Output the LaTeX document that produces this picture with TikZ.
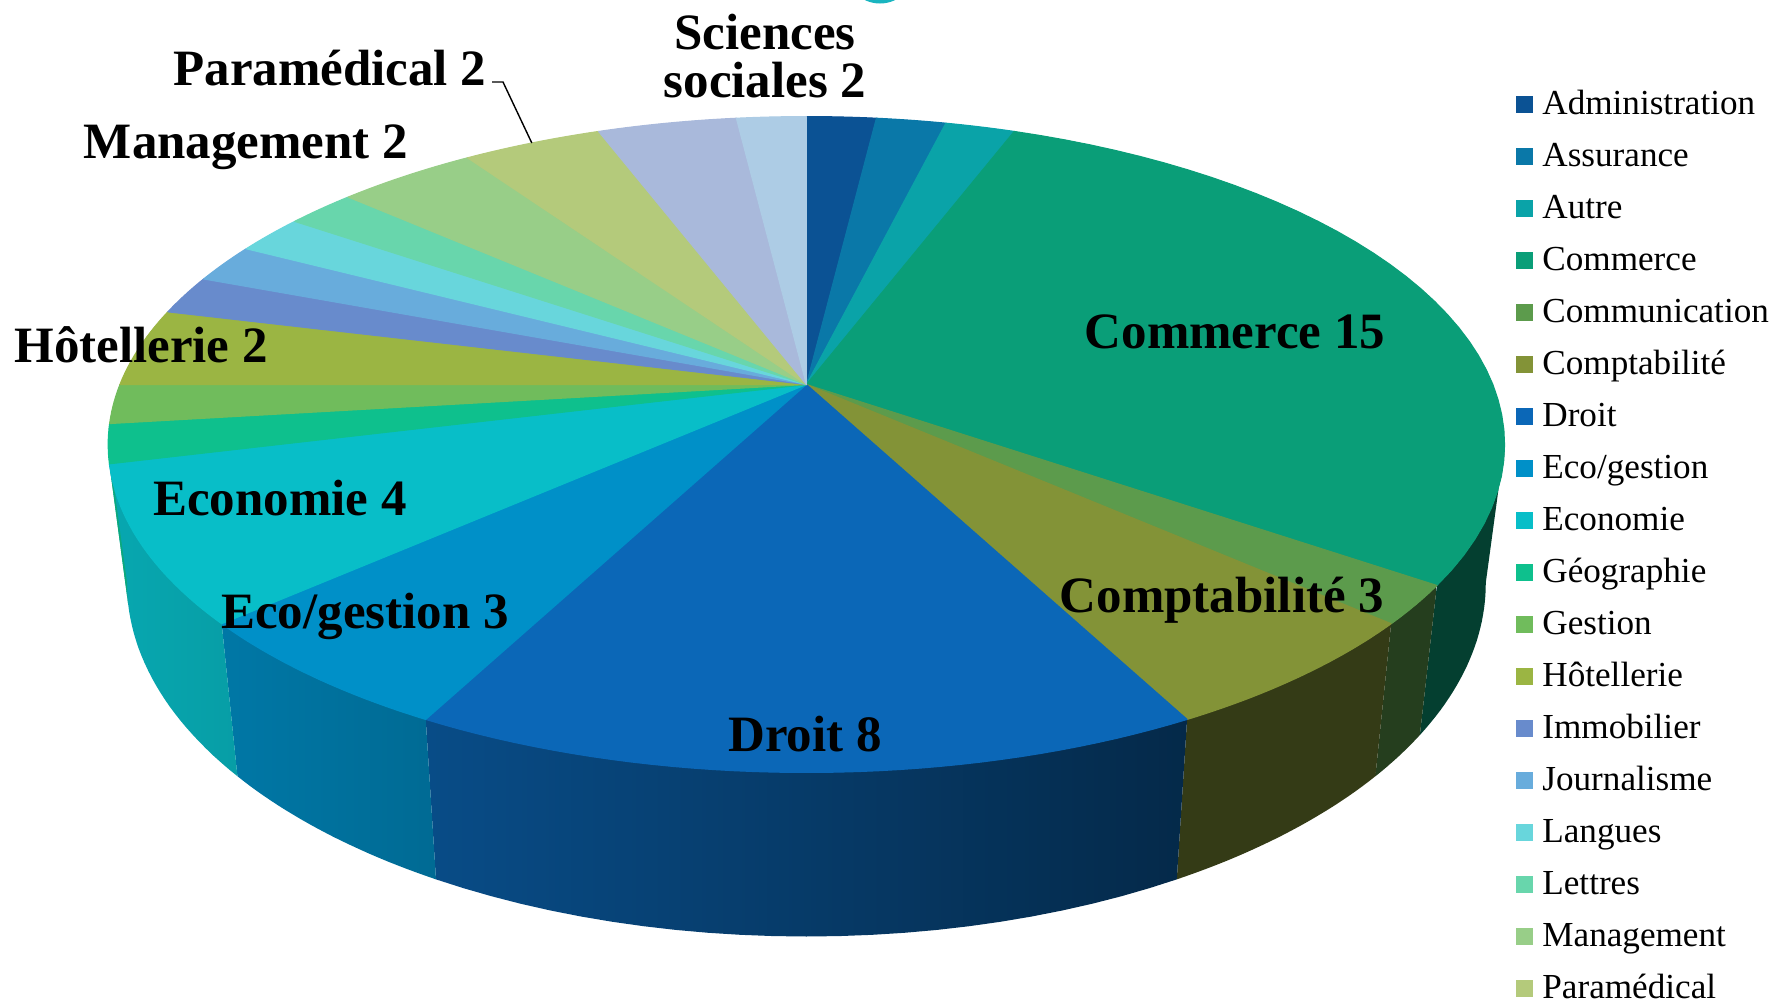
\documentclass[tikz,border=0pt]{standalone}
\usepackage{fontspec}
\setmainfont{Liberation Serif}
\usepackage{tikz}
\usetikzlibrary{positioning}
\usepackage{xcolor}
\definecolor{pcadm}{RGB}{11,82,148}
\definecolor{pcass}{RGB}{10,120,168}
\definecolor{pcaut}{RGB}{10,163,168}
\definecolor{pccom}{RGB}{10,158,120}
\definecolor{pccmn}{RGB}{92,155,76}
\definecolor{pccpt}{RGB}{131,147,55}
\definecolor{pcdro}{RGB}{11,103,183}
\definecolor{pcecg}{RGB}{0,144,200}
\definecolor{pceco}{RGB}{8,190,200}
\definecolor{pcgeo}{RGB}{14,192,141}
\definecolor{pcges}{RGB}{112,188,92}
\definecolor{pchot}{RGB}{155,181,67}
\definecolor{pcimm}{RGB}{104,139,204}
\definecolor{pcjou}{RGB}{104,172,220}
\definecolor{pclan}{RGB}{104,214,220}
\definecolor{pclet}{RGB}{104,214,172}
\definecolor{pcman}{RGB}{152,206,136}
\definecolor{pcpar}{RGB}{180,202,123}
\definecolor{pcsci}{RGB}{169,185,219}
\definecolor{pcoth}{RGB}{173,204,229}
\definecolor{pcring}{RGB}{26,181,192}
\tikzstyle{slicelabel} = [font=\fontsize{14.5}{17}\selectfont\bfseries, inner sep=0pt, anchor=base]
\tikzstyle{legmark} = [rectangle, minimum size=1.7mm, inner sep=0pt]
\tikzstyle{legtext} = [font=\fontsize{10}{12}\selectfont, inner sep=0pt, text height=5.7pt, text depth=0pt, anchor=west]
\tikzstyle{leader} = [thin, black]

\begin{document}
\begin{tikzpicture}[x=0.1mm, y=-0.1mm,
  declare function={
    rimw(\t)=1+0.183*cos(\t);
    rimx(\t)=806.4+686.5*sin(\t)/rimw(\t);
    rimy(\t)=384.5-317*cos(\t)/rimw(\t);
    botx(\t)=806.4+668*sin(\t)/rimw(\t);
    boty(\t)=rimy(\t)+134/rimw(\t);
    lum(\p)=max(40,40+(1187-\p)/1077*48);
  }]
\useasboundingbox (0,0) rectangle (1773,1000);
\clip (0,0) rectangle (1773,1000);

% Ring cut by the top edge
\draw[pcring, line width=0.5mm] (880,-31) circle (32);

% Side wall (front part only)
\foreach \a/\b/\col in {100.5/124.62/pccom, 124.62/131.54/pccmn, 131.54/152.31/pccpt,
    152.31/207.69/pcdro, 207.69/228.46/pcecg, 228.46/256.15/pceco, 256.15/259.5/pcgeo}{
  \pgfmathsetmacro\lumL{lum(min(rimx(\a),rimx(\b)))}
  \pgfmathsetmacro\lumR{lum(max(rimx(\a),rimx(\b)))}
  \shade[left color=\col!\lumL!black, right color=\col!\lumR!black]
    plot[domain=\a:\b, samples=25] ({rimx(\x)},{rimy(\x)})
    -- plot[domain=\b:\a, samples=25] ({botx(\x)},{boty(\x)}) -- cycle;
}

% Top face, slices in 52nds clockwise from the top
\coordinate (apex) at (806.4,384.5);
\foreach \a/\b/\col in {0/1/pcadm, 1/2/pcass, 2/3/pcaut, 3/18/pccom, 18/19/pccmn,
    19/22/pccpt, 22/30/pcdro, 30/33/pcecg, 33/37/pceco, 37/38/pcgeo, 38/39/pcges,
    39/41/pchot, 41/42/pcimm, 42/43/pcjou, 43/44/pclan, 44/45/pclet, 45/47/pcman,
    47/49/pcpar, 49/51/pcsci, 51/52/pcoth}{
  \pgfmathsetmacro\ta{\a/52*360}
  \pgfmathsetmacro\tb{\b/52*360}
  \fill[\col, draw=\col, line width=0.3pt, line join=round]
    (apex) -- plot[domain=\ta:\tb, samples=40] ({rimx(\x)},{rimy(\x)}) -- cycle;
}

% Slice labels
\node[slicelabel] (lcom) at (1235,348) {Commerce 15};
\node[slicelabel] (lcpt) at (1222,612) {Comptabilité 3};
\node[slicelabel] (ldro) at (805,751) {Droit 8};
\node[slicelabel] (lecg) at (365,628) {Eco/gestion 3};
\node[slicelabel] (leco) at (280,515) {Economie 4};
\node[slicelabel] (lhot) at (141,362) {Hôtellerie 2};
\node[slicelabel] (lman) at (246,158) {Management 2};
\node[slicelabel, anchor=base east] (lpar) at (487,85) {Paramédical 2};
\node[slicelabel, font=\fontsize{14.5}{13.7}\selectfont\bfseries, align=center, anchor=south] (lsci) at (765,99) {Sciences\\sociales 2};

\coordinate (parapt) at ({rimx(332.3)},{rimy(332.3)});
\draw[leader] ([xshift=0.5mm, yshift=0.3mm]lpar.base east) -- ++(11,0) -- (parapt);

% Legend
\foreach \col/\name [count=\i from 0] in {pcadm/Administration, pcass/Assurance, pcaut/Autre,
    pccom/Commerce, pccmn/Communication, pccpt/Comptabilité, pcdro/Droit, pcecg/{Eco/gestion},
    pceco/Economie, pcgeo/Géographie, pcges/Gestion, pchot/Hôtellerie, pcimm/Immobilier,
    pcjou/Journalisme, pclan/Langues, pclet/Lettres, pcman/Management, pcpar/Paramédical}{
  \node[legmark, fill=\col] (mark\i) at (1524.5,{104+52*\i}) {};
  \node[legtext, right=0.8mm of mark\i] (leg\i) {\name};
}
\end{tikzpicture}
\end{document}
